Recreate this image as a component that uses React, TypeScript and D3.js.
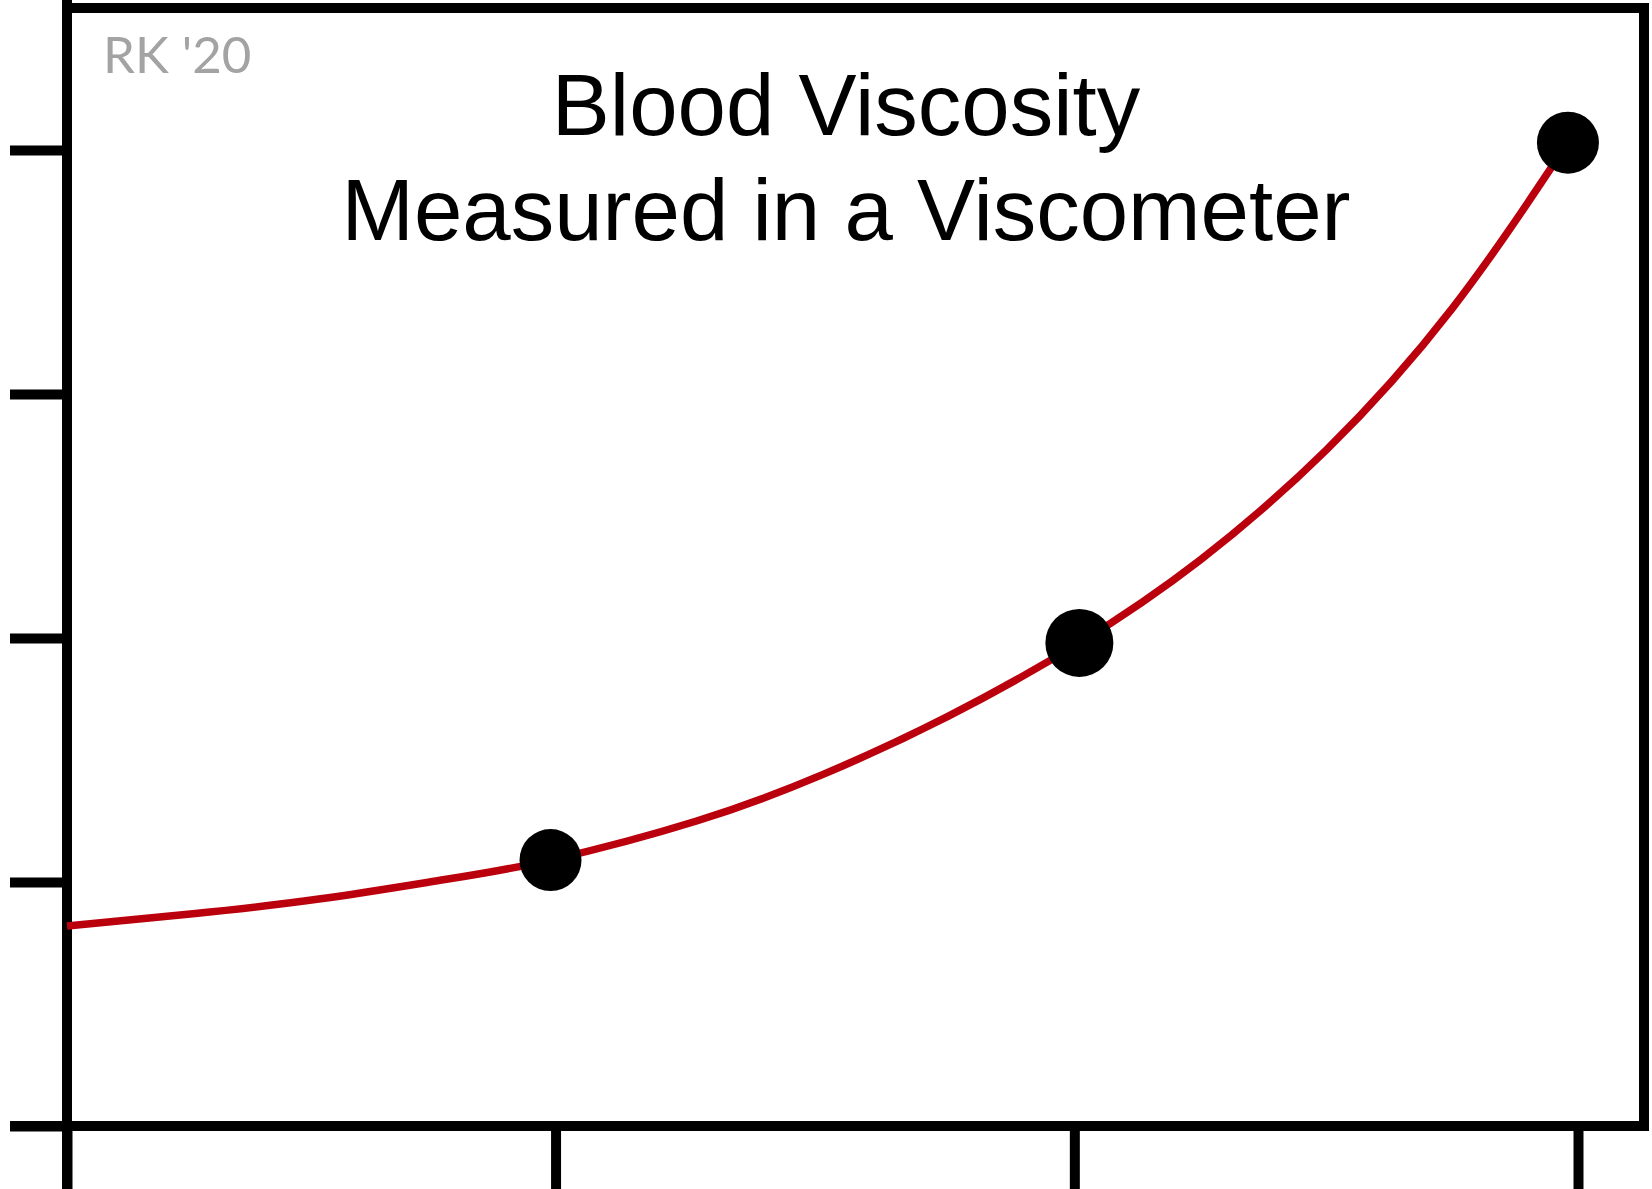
import * as d3 from "d3";
import React, { useRef, useEffect } from "react";

// x ticks (hand drawn, so not perfectly evenly spaced)
const xTicks = [0, 0.97, 2.0, 3.0];
const yTicks = [0, 1, 2, 3, 4];

// measured points
const dotX = [0.96, 2.01, 2.98];
const dotY = [1.09, 1.98, 4.03];

// fitted curve
const curveX = [0, 0.25, 0.5, 0.75, 0.96, 1.25, 1.5, 1.75, 2.01, 2.25, 2.5, 2.75, 2.98];
const curveY = [0.82, 0.87, 0.93, 1.01, 1.09, 1.25, 1.44, 1.68, 1.98, 2.32, 2.77, 3.35, 4.03];

const titleLines = ["Blood Viscosity", "Measured in a Viscometer"];
const signature = "RK '20";

const WIDTH = 1652;
const HEIGHT = 1189;

const App: React.FC = () => {
  const svgRef = useRef<SVGSVGElement>(null);

  useEffect(() => {
    if (!svgRef.current) return;
    const svg = d3.select(svgRef.current);
    svg.selectAll("*").remove();

    const left = 67;
    const right = 1644;
    const top = 8;
    const bottom = 1126;
    const lineW = 10;

    const x = d3.scaleLinear().domain([0, 3]).range([left, 1578]);
    const y = d3.scaleLinear().domain([0, 4]).range([bottom, 150]);

    // frame: top + right
    svg
      .append("path")
      .attr("d", `M${left},${top}H${right}V${bottom}`)
      .attr("fill", "none")
      .attr("stroke", "#000")
      .attr("stroke-width", lineW)
      .attr("stroke-linecap", "square");

    // left axis
    const yAxis = svg
      .append("g")
      .attr("transform", `translate(${left},0)`)
      .call(
        d3
          .axisLeft(y)
          .tickValues(yTicks)
          .tickSize(left - 10)
          .tickSizeOuter(0)
          .tickFormat(() => "")
      );
    yAxis.select(".domain").remove();
    yAxis.selectAll(".tick line").attr("stroke", "#000").attr("stroke-width", lineW);

    // bottom axis
    const xAxis = svg
      .append("g")
      .attr("transform", `translate(0,${bottom})`)
      .call(
        d3
          .axisBottom(x)
          .tickValues(xTicks)
          .tickSize(HEIGHT - bottom)
          .tickSizeOuter(0)
          .tickFormat(() => "")
      );
    xAxis.select(".domain").remove();
    xAxis.selectAll(".tick line").attr("stroke", "#000").attr("stroke-width", lineW);

    svg
      .append("line")
      .attr("x1", 10)
      .attr("x2", right)
      .attr("y1", bottom)
      .attr("y2", bottom)
      .attr("stroke", "#000")
      .attr("stroke-width", lineW);
    svg
      .append("line")
      .attr("x1", left)
      .attr("x2", left)
      .attr("y1", 0)
      .attr("y2", HEIGHT)
      .attr("stroke", "#000")
      .attr("stroke-width", lineW);

    // curve
    const pts: [number, number][] = curveX.map((d, i) => [d, curveY[i]]);
    const line = d3
      .line<[number, number]>()
      .x((d) => x(d[0]))
      .y((d) => y(d[1]))
      .curve(d3.curveNatural);

    svg
      .append("path")
      .attr("d", line(pts))
      .attr("fill", "none")
      .attr("stroke", "#bb000d")
      .attr("stroke-width", 7.5)
      .attr("stroke-linecap", "butt");

    // dots
    svg
      .selectAll(".dot")
      .data(dotX.map((d, i) => [d, dotY[i]]))
      .enter()
      .append("circle")
      .attr("class", "dot")
      .attr("cx", (d) => x(d[0]))
      .attr("cy", (d) => y(d[1]))
      .attr("r", (_, i) => (i === 1 ? 34 : 31))
      .attr("fill", "#000");

    // title
    svg
      .selectAll(".title")
      .data(titleLines)
      .enter()
      .append("text")
      .attr("class", "title")
      .attr("x", 846)
      .attr("y", (_, i) => 135 + i * 105)
      .attr("text-anchor", "middle")
      .attr("font-family", "Liberation Sans, Arial, sans-serif")
      .attr("font-size", 87)
      .attr("fill", "#000")
      .text((d) => d);

    svg
      .append("text")
      .attr("x", 103)
      .attr("y", 73)
      .attr("font-family", "Lato, Open Sans, sans-serif")
      .attr("font-size", 51)
      .attr("fill", "#a3a3a3")
      .text(signature);
  }, []);

  return (
    <svg
      ref={svgRef}
      width={WIDTH}
      height={HEIGHT}
      style={{ position: "absolute", left: 0, top: 0, background: "#fff" }}
    />
  );
};

export default App;
